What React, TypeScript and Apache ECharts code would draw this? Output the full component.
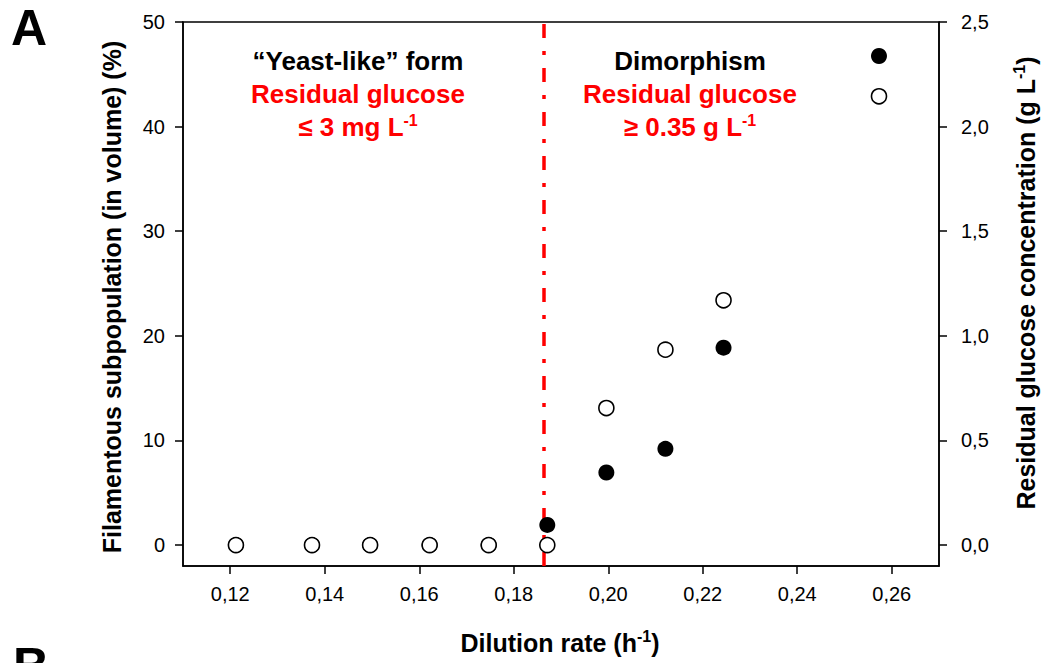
import React, { useEffect, useRef } from "react";
import * as echarts from "echarts";

// Dilution rate (h-1) for each steady state
const dilutionRate = [0.1212, 0.1373, 0.1496, 0.1622, 0.1747, 0.1871, 0.1996, 0.2121, 0.2244, 0.2573];
// Filamentous subpopulation (% in volume) – filled circles, left axis
const filamentous = [0, 0, 0, 0, 0, 1.93, 6.94, 9.2, 18.87, 46.75];
// Residual glucose concentration (g L-1) – open circles, right axis
const residualGlucose = [0, 0, 0, 0, 0, 0, 0.655, 0.934, 1.17, 2.145];
// Transition between yeast-like form and dimorphism
const transitionRate = 0.1864;

const xTicks = [0.12, 0.14, 0.16, 0.18, 0.2, 0.22, 0.24, 0.26];
const leftTicks = [0, 10, 20, 30, 40, 50];
const rightTicks = [0, 0.5, 1.0, 1.5, 2.0, 2.5];

const FONT = "'Liberation Sans', Arial, sans-serif";

const comma = (v: number, d: number) => v.toFixed(d).replace(".", ",");

export default function App() {
  const ref = useRef<HTMLDivElement>(null);

  useEffect(() => {
    if (!ref.current) return;
    const chart = echarts.init(ref.current, null, { renderer: "svg" });

    const axisLine = { show: true, onZero: false, lineStyle: { color: "#000", width: 1.5 } };
    const tickStyle = { color: "#000", width: 1.5 };
    const labelBase = { color: "#000", fontSize: 20, fontFamily: FONT };

    const supRich = (size: number, color: string) => ({
      sup: {
        fontSize: Math.round(size * 0.62),
        fontWeight: "bold",
        fontFamily: FONT,
        color,
        padding: [0, 0, Math.round(size * 0.55), 0],
      },
    });

    const blockText = (x: number, y: number, text: string, color: string, rich = false) => ({
      type: "text",
      x,
      y,
      style: {
        text,
        fill: color,
        fontSize: 26,
        fontWeight: "bold",
        fontFamily: FONT,
        textAlign: "center",
        textVerticalAlign: "middle",
        rich: rich ? supRich(26, color) : undefined,
      },
    });

    const titleText = (x: number, y: number, text: string, rotation: number) => ({
      type: "text",
      x,
      y,
      rotation,
      style: {
        text,
        fill: "#000",
        fontSize: 25,
        fontWeight: "bold",
        fontFamily: FONT,
        textAlign: "center",
        textVerticalAlign: "middle",
        rich: supRich(25, "#000"),
      },
    });

    chart.setOption({
      animation: false,
      backgroundColor: "#fff",
      grid: {
        left: 183,
        right: 107,
        top: 22,
        bottom: 97,
        show: true,
        borderColor: "#000",
        borderWidth: 1.5,
        backgroundColor: "transparent",
      },
      xAxis: {
        type: "value",
        min: 0.11,
        max: 0.27,
        axisLine,
        splitLine: { show: false },
        axisTick: { show: true, length: 8, customValues: xTicks, lineStyle: tickStyle },
        axisLabel: {
          ...labelBase,
          margin: 18,
          customValues: xTicks,
          formatter: (v: number) => comma(v, 2),
        },
      },
      yAxis: [
        {
          type: "value",
          min: -2,
          max: 50,
          axisLine,
          splitLine: { show: false },
          axisTick: { show: true, length: 8, customValues: leftTicks, lineStyle: tickStyle },
          axisLabel: {
            ...labelBase,
            margin: 18,
            customValues: leftTicks,
            formatter: (v: number) => String(v),
          },
        },
        {
          type: "value",
          min: -0.1,
          max: 2.5,
          position: "right",
          axisLine,
          splitLine: { show: false },
          axisTick: { show: true, length: 8, customValues: rightTicks, lineStyle: tickStyle },
          axisLabel: {
            ...labelBase,
            margin: 22,
            customValues: rightTicks,
            formatter: (v: number) => comma(v, 1),
          },
        },
      ],
      series: [
        {
          name: "Filamentous subpopulation",
          type: "scatter",
          yAxisIndex: 0,
          symbol: "circle",
          symbolSize: 16,
          itemStyle: { color: "#000", opacity: 1 },
          data: dilutionRate.map((x, i) => [x, filamentous[i]]),
          z: 3,
          markLine: {
            silent: true,
            symbol: "none",
            precision: 6,
            label: { show: false },
            lineStyle: { color: "#ff0000", width: 3.5, type: [14, 13, 4, 13], opacity: 1 },
            data: [{ xAxis: transitionRate }],
            z: 2,
          },
        },
        {
          name: "Residual glucose",
          type: "scatter",
          yAxisIndex: 1,
          symbol: "circle",
          symbolSize: 15,
          itemStyle: { color: "#fff", borderColor: "#000", borderWidth: 1.6, opacity: 1 },
          data: dilutionRate.map((x, i) => [x, residualGlucose[i]]),
          z: 4,
        },
      ],
      graphic: [
        {
          type: "text",
          x: 11,
          y: 28,
          style: {
            text: "A",
            fill: "#000",
            fontSize: 50,
            fontWeight: "bold",
            fontFamily: FONT,
            textVerticalAlign: "middle",
          },
        },
        {
          type: "text",
          x: 13,
          y: 641,
          style: { text: "B", fill: "#000", fontSize: 50, fontWeight: "bold", fontFamily: FONT },
        },
        blockText(358, 61, "“Yeast-like” form", "#000"),
        blockText(358, 94, "Residual glucose", "#ff0000"),
        blockText(358, 127, "≤ 3 mg L{sup|-1}", "#ff0000", true),
        blockText(690, 61, "Dimorphism", "#000"),
        blockText(690, 94, "Residual glucose", "#ff0000"),
        blockText(690, 127, "≥ 0.35 g L{sup|-1}", "#ff0000", true),
        titleText(560, 643, "Dilution rate (h{sup|-1})", 0),
        titleText(112, 297, "Filamentous subpopulation (in volume) (%)", Math.PI / 2),
        titleText(1026, 283, "Residual glucose concentration (g L{sup|-1})", Math.PI / 2),
      ],
    });

    return () => chart.dispose();
  }, []);

  return (
    <div
      ref={ref}
      style={{ position: "fixed", left: 0, top: 0, width: 1046, height: 663, background: "#fff" }}
    />
  );
}
